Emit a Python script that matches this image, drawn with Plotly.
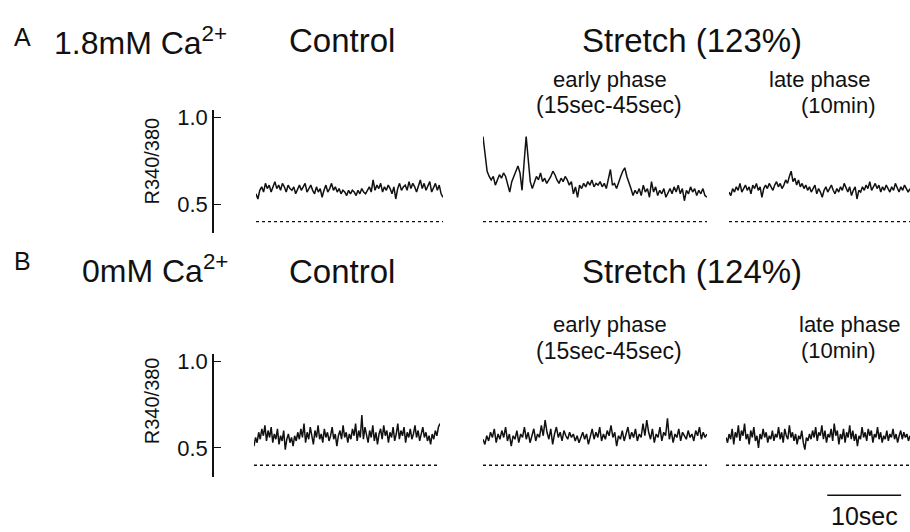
import numpy as np
import plotly.graph_objects as go

# ---------------- data (R340/380 ratio) ----------------
a_control = [0.56,0.53,0.58,0.60,0.57,0.62,0.59,0.61,0.57,0.60,
             0.63,0.59,0.61,0.58,0.62,0.60,0.57,0.61,0.59,0.58,
             0.60,0.56,0.59,0.61,0.58,0.60,0.62,0.57,0.59,0.61,
             0.58,0.56,0.60,0.57,0.59,0.54,0.58,0.61,0.57,0.59,
             0.62,0.58,0.60,0.57,0.59,0.56,0.58,0.57,0.55,0.58,
             0.56,0.58,0.57,0.55,0.58,0.56,0.59,0.57,0.56,0.58,
             0.60,0.57,0.64,0.58,0.61,0.59,0.62,0.57,0.60,0.58,
             0.61,0.59,0.56,0.60,0.53,0.59,0.62,0.58,0.60,0.61,
             0.58,0.63,0.59,0.62,0.60,0.57,0.61,0.64,0.59,0.62,
             0.58,0.61,0.63,0.57,0.60,0.62,0.58,0.61,0.56,0.54]
a_early = [0.89,0.78,0.69,0.66,0.64,0.66,0.61,0.64,0.67,0.65,
           0.68,0.66,0.62,0.57,0.63,0.66,0.70,0.72,0.68,0.58,
           0.74,0.89,0.76,0.63,0.59,0.62,0.66,0.64,0.68,0.63,
           0.65,0.62,0.64,0.66,0.69,0.67,0.64,0.62,0.65,0.63,
           0.66,0.64,0.61,0.63,0.56,0.60,0.54,0.61,0.59,0.62,
           0.60,0.63,0.61,0.64,0.60,0.62,0.61,0.63,0.60,0.62,
           0.59,0.64,0.70,0.61,0.62,0.59,0.63,0.66,0.69,0.71,
           0.66,0.63,0.59,0.55,0.58,0.56,0.59,0.55,0.61,0.57,
           0.59,0.54,0.63,0.57,0.60,0.55,0.58,0.56,0.59,0.54,
           0.57,0.59,0.56,0.60,0.57,0.61,0.56,0.59,0.52,0.58,
           0.56,0.60,0.57,0.59,0.55,0.58,0.56,0.59,0.55,0.54]
a_late = [0.57,0.55,0.59,0.57,0.60,0.58,0.62,0.57,0.59,0.61,
          0.58,0.60,0.56,0.61,0.59,0.62,0.58,0.60,0.54,0.59,
          0.61,0.59,0.62,0.60,0.58,0.61,0.63,0.60,0.62,0.59,
          0.61,0.64,0.62,0.66,0.69,0.63,0.65,0.61,0.64,0.60,
          0.62,0.59,0.61,0.58,0.60,0.57,0.59,0.61,0.56,0.59,
          0.57,0.54,0.58,0.60,0.57,0.59,0.61,0.58,0.56,0.59,
          0.57,0.60,0.58,0.62,0.59,0.57,0.60,0.55,0.58,0.60,
          0.53,0.58,0.57,0.60,0.58,0.61,0.59,0.63,0.58,0.60,
          0.62,0.59,0.61,0.57,0.60,0.58,0.61,0.59,0.57,0.60,
          0.58,0.62,0.59,0.57,0.60,0.58,0.61,0.59,0.57,0.59]
b_control = [0.51,0.56,0.53,0.59,0.55,0.61,0.57,0.63,0.54,0.60,
             0.56,0.62,0.53,0.58,0.55,0.61,0.52,0.57,0.54,0.60,
             0.49,0.55,0.58,0.53,0.56,0.51,0.57,0.54,0.59,0.55,
             0.61,0.56,0.64,0.53,0.59,0.55,0.62,0.57,0.52,0.60,
             0.56,0.63,0.55,0.58,0.53,0.61,0.56,0.59,0.54,0.57,
             0.62,0.55,0.58,0.51,0.57,0.60,0.55,0.63,0.56,0.59,
             0.53,0.58,0.55,0.61,0.57,0.64,0.54,0.60,0.56,0.69,
             0.55,0.62,0.57,0.53,0.60,0.56,0.63,0.54,0.59,0.52,
             0.58,0.61,0.55,0.63,0.57,0.60,0.53,0.59,0.56,0.62,
             0.54,0.58,0.64,0.55,0.60,0.57,0.62,0.53,0.59,0.56,
             0.61,0.55,0.58,0.63,0.56,0.60,0.54,0.58,0.62,0.56,
             0.59,0.54,0.57,0.52,0.58,0.55,0.60,0.57,0.62,0.64]
b_early = [0.55,0.52,0.57,0.54,0.59,0.56,0.61,0.53,0.58,0.55,
           0.60,0.56,0.62,0.54,0.58,0.51,0.57,0.55,0.60,0.53,
           0.58,0.56,0.62,0.55,0.59,0.53,0.57,0.61,0.54,0.58,
           0.56,0.63,0.57,0.66,0.59,0.55,0.61,0.52,0.58,0.62,
           0.56,0.59,0.54,0.60,0.57,0.55,0.59,0.56,0.58,0.54,
           0.57,0.53,0.56,0.59,0.55,0.58,0.52,0.57,0.61,0.55,
           0.59,0.56,0.62,0.54,0.58,0.55,0.60,0.57,0.63,0.56,
           0.59,0.51,0.57,0.55,0.60,0.54,0.58,0.62,0.55,0.59,
           0.56,0.61,0.54,0.58,0.56,0.64,0.57,0.66,0.59,0.55,
           0.61,0.53,0.58,0.56,0.62,0.54,0.59,0.57,0.67,0.55,
           0.60,0.53,0.58,0.56,0.61,0.54,0.59,0.57,0.55,0.60,
           0.56,0.58,0.54,0.60,0.57,0.62,0.55,0.59,0.56,0.58]
b_late = [0.56,0.53,0.58,0.55,0.61,0.52,0.59,0.56,0.63,0.54,
          0.60,0.57,0.64,0.55,0.58,0.52,0.60,0.56,0.62,0.54,
          0.57,0.50,0.58,0.55,0.61,0.56,0.59,0.53,0.57,0.55,
          0.60,0.54,0.58,0.56,0.62,0.55,0.59,0.53,0.61,0.57,
          0.55,0.63,0.56,0.59,0.54,0.58,0.52,0.57,0.55,0.60,
          0.53,0.49,0.56,0.54,0.58,0.55,0.60,0.56,0.62,0.54,
          0.59,0.57,0.63,0.55,0.60,0.53,0.58,0.56,0.61,0.54,
          0.64,0.57,0.60,0.52,0.58,0.55,0.61,0.53,0.59,0.56,
          0.63,0.55,0.60,0.54,0.58,0.51,0.57,0.55,0.62,0.56,
          0.59,0.54,0.61,0.57,0.60,0.53,0.58,0.56,0.62,0.55,
          0.59,0.53,0.57,0.55,0.60,0.54,0.58,0.56,0.61,0.55,
          0.58,0.53,0.57,0.60,0.55,0.59,0.56,0.58,0.54,0.57]

# time windows (s) of each recording segment
a_windows = [(0.0, 25.2), (15.0, 45.0), (600.0, 624.4)]
b_windows = [(0.0, 25.1), (15.0, 45.0), (600.0, 624.9)]
baseline_value = 0.40
y_ticks = [0.5, 1.0]
y_ticktext = ["0.5", "1.0"]
scale_bar_sec = 10

# ---------------- figure ----------------
W, H = 910, 532
FONT = "Liberation Sans, Arial, Helvetica, sans-serif"
INK = "#111111"

def px(x):
    return x / W

def py(y):
    return 1 - y / H

fig = go.Figure()

a_series = [a_control, a_early, a_late]
b_series = [b_control, b_early, b_late]
a_dom = [(256, 443), (483, 707), (729, 910)]
b_dom = [(254, 440), (483, 707), (726, 910)]

for panel, (series, wins, yname) in enumerate([(a_series, a_windows, "y"),
                                                (b_series, b_windows, "y2")]):
    for k in range(3):
        axn = panel * 3 + k + 1
        xname = "x" if axn == 1 else f"x{axn}"
        vals = series[k]
        t0, t1 = wins[k]
        t = np.linspace(t0, t1, len(vals))
        fig.add_trace(go.Scatter(x=t, y=vals, mode="lines", xaxis=xname, yaxis=yname,
                                 line=dict(color=INK, width=1.5), hoverinfo="skip",
                                 showlegend=False))
        fig.add_trace(go.Scatter(x=[t0, t1], y=[baseline_value, baseline_value],
                                 mode="lines", xaxis=xname, yaxis=yname,
                                 line=dict(color=INK, width=1.3, dash="3px,3px"),
                                 hoverinfo="skip", showlegend=False))

layout = dict(width=W, height=H, margin=dict(l=0, r=0, t=0, b=0),
              paper_bgcolor="white", plot_bgcolor="white", showlegend=False,
              font=dict(family=FONT, color=INK))

for panel, (doms, wins) in enumerate([(a_dom, a_windows), (b_dom, b_windows)]):
    yname = "y" if panel == 0 else "y2"
    for k in range(3):
        axn = panel * 3 + k + 1
        key = "xaxis" if axn == 1 else f"xaxis{axn}"
        layout[key] = dict(domain=[px(doms[k][0]), px(doms[k][1])], range=list(wins[k]),
                           visible=False, anchor=yname)

yaxis_common = dict(range=[0.335, 1.04], tickvals=y_ticks, ticktext=y_ticktext,
                    ticks="inside", ticklen=7, tickwidth=1.4, tickcolor=INK,
                    showline=True, linecolor=INK, linewidth=1.5, showgrid=False,
                    zeroline=False, anchor="free", position=px(213),
                    tickfont=dict(size=22, family=FONT, color=INK))
layout["yaxis"] = dict(domain=[py(230), py(106.5)], **yaxis_common)
layout["yaxis2"] = dict(domain=[py(476), py(352.5)], **yaxis_common)
fig.update_layout(**layout)

def txt(x, y, s, size, xanchor="center", angle=0):
    fig.add_annotation(x=px(x), y=py(y), xref="paper", yref="paper", text=s,
                       showarrow=False, xanchor=xanchor, yanchor="middle",
                       textangle=angle, font=dict(size=size, family=FONT, color=INK))

# panel A texts
txt(12, 32, "A", 25, "left")
txt(52, 36, "1.8mM Ca<sup>2+</sup>", 32, "left")
txt(342, 36, "Control", 33)
txt(692, 36, "Stretch (123%)", 33)
txt(610, 75, "early phase", 22)
txt(609, 101, "(15sec-45sec)", 23)
txt(820, 75, "late phase", 22)
txt(878, 101, "(10min)", 22, "right")
txt(152, 158, "R340/380", 20, angle=-90)

# panel B texts
txt(12, 258, "B", 25, "left")
txt(80, 267, "0mM Ca<sup>2+</sup>", 32, "left")
txt(342, 269, "Control", 33)
txt(692, 269, "Stretch (124%)", 33)
txt(610, 323, "early phase", 22)
txt(609, 349, "(15sec-45sec)", 23)
txt(850, 323, "late phase", 22)
txt(878, 349, "(10min)", 22, "right")
txt(152, 400, "R340/380", 20, angle=-90)

# scale bar on the late-phase time axis of panel B
bar_end = b_windows[2][1] - 1.2
fig.add_shape(type="line", xref="x6", yref="paper", x0=bar_end - scale_bar_sec, x1=bar_end,
              y0=py(495), y1=py(495), line=dict(color=INK, width=1.5))
fig.add_annotation(x=bar_end - scale_bar_sec / 2, y=py(516), xref="x6", yref="paper",
                   text=f"{scale_bar_sec}sec", showarrow=False, yanchor="middle",
                   font=dict(size=25, family=FONT, color=INK))

fig.write_html("out.html")
